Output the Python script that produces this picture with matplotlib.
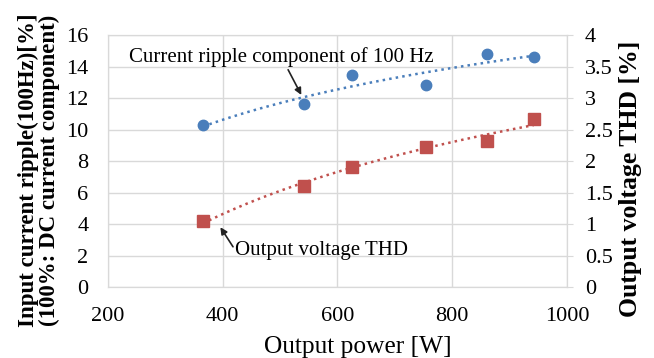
import numpy as np
import matplotlib
matplotlib.use("Agg")
import matplotlib.pyplot as plt

plt.rcParams['font.family'] = ['Liberation Serif', 'DejaVu Serif']

# data
power = [366, 541, 626, 755, 861, 942]
ripple = [10.3, 11.6, 13.45, 12.85, 14.8, 14.6]
power_thd = [366, 541, 626, 755, 861, 942]
thd = [1.05, 1.6, 1.9, 2.23, 2.32, 2.67]

blue = '#4a7ebb'
red = '#c0504d'
grid_col = '#d9d9d9'

fig = plt.figure(figsize=(6.54, 3.58), dpi=100)
ax = fig.add_axes([0.165, 0.198, 0.702, 0.704])
ax2 = ax.twinx()

# log trendlines (as excel does)
xs = np.linspace(min(power), max(power), 100)
a, b = np.polyfit(np.log(power), ripple, 1)
ax.plot(xs, a * np.log(xs) + b, ':', color=blue, lw=1.8)
a2, b2 = np.polyfit(np.log(power_thd), thd, 1)
ax2.plot(xs, a2 * np.log(xs) + b2, ':', color=red, lw=1.8)

ax.plot(power, ripple, 'o', color=blue, ms=7.5, zorder=5)
ax2.plot(power_thd, thd, 's', color=red, ms=8, zorder=5)

ax.set_xlim(200, 1000)
ax.set_ylim(0, 16)
ax.set_xticks(range(200, 1001, 200))
ax.set_yticks(range(0, 17, 2))
ax2.set_ylim(0, 4)
ax2.set_yticks(np.arange(0, 4.01, 0.5))
ax2.set_yticklabels(['0', '0.5', '1', '1.5', '2', '2.5', '3', '3.5', '4'])

ax.grid(True, color=grid_col, lw=1)
ax.set_axisbelow(True)
for a_ in (ax, ax2):
    for s in a_.spines.values():
        s.set_color(grid_col)
    a_.tick_params(labelsize=16, color=grid_col, length=4, pad=9)
ax.tick_params(axis='x', length=0, pad=14)
ax.tick_params(axis='y', length=0, pad=14)

ax.set_xlabel('Output power [W]', fontsize=18.3)
ax.xaxis.set_label_coords(0.545, -0.195)
ax.set_ylabel('Input current ripple(100Hz)[%]\n(100%: DC current component)',
              fontsize=16.5, fontweight='bold', linespacing=0.95)
ax.yaxis.set_label_coords(-0.105, 0.464)
ax2.set_ylabel('Output voltage THD [%]', fontsize=18.5, fontweight='bold')
ax2.yaxis.set_label_coords(1.113, 0.43)

# annotations
ax.text(503, 14.6, 'Current ripple component of 100 Hz', fontsize=15,
        ha='center', va='center')
ax.annotate('', xy=(537, 12.2), xytext=(514, 13.8),
            arrowprops=dict(arrowstyle='-|>', color='#222222', lw=1.2,
                            shrinkA=0, shrinkB=0))
ax2.text(421, 0.58, 'Output voltage THD', fontsize=15, ha='left', va='center')
ax2.annotate('', xy=(396, 0.95), xytext=(418, 0.64),
             arrowprops=dict(arrowstyle='-|>', color='#222222', lw=1.2,
                             shrinkA=0, shrinkB=0))

fig.savefig('out.png', dpi=100)
